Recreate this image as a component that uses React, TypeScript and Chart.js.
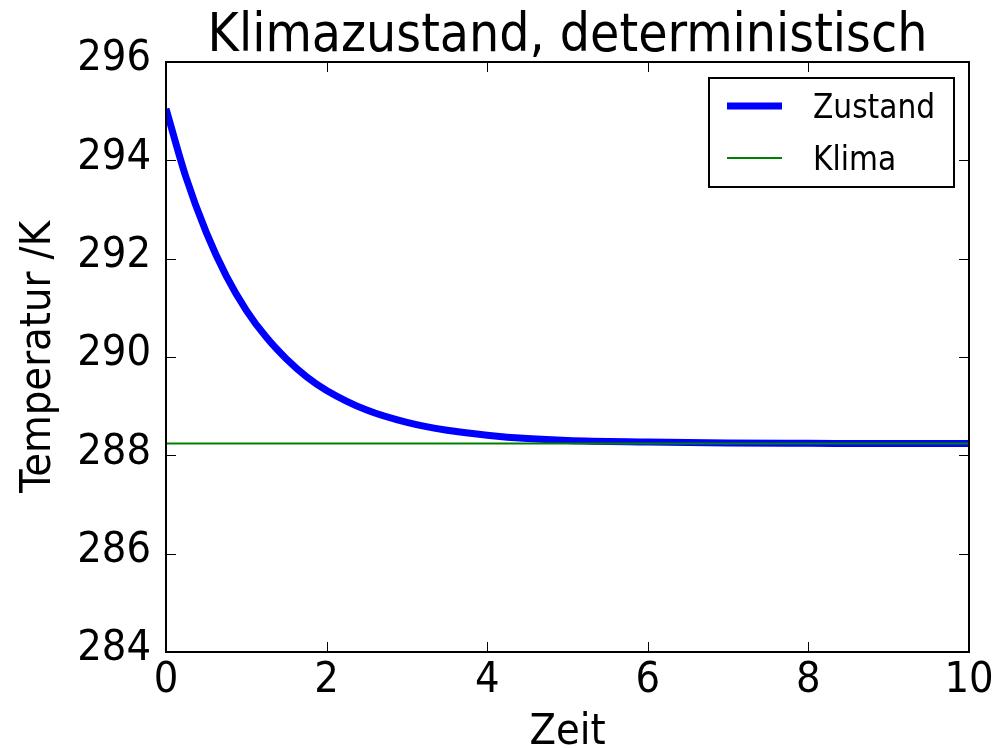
import { useEffect, useRef } from "react";
import { Chart, registerables } from "chart.js";

Chart.register(...registerables);

const FONT = '"DejaVu Sans Condensed", "DejaVu Sans", sans-serif';

const chartTitle = "Klimazustand, deterministisch";
const xAxisLabel = "Zeit";
const yAxisLabel = "Temperatur /K";
const seriesLabels = ["Zustand", "Klima"];
const seriesColors = ["#0000ff", "#008000"];
const seriesWidths = [7, 2];

// Temperature trajectory relaxing toward the climate value
const timeSteps = [0, 0.25, 0.5, 0.75, 1, 1.25, 1.5, 1.75, 2, 2.5, 3, 3.5, 4, 4.5, 5, 6, 7, 8, 9, 10];
const zustand = [
  295.05, 293.65, 292.54, 291.65, 290.95, 290.4, 289.96, 289.6, 289.32, 288.92,
  288.67, 288.51, 288.41, 288.34, 288.3, 288.27, 288.25, 288.245, 288.24, 288.24,
];
const klimaTimes = [0, 10];
const klima = [288.24, 288.24];

const xTicks = [0, 2, 4, 6, 8, 10];
const yTicks = [284, 286, 288, 290, 292, 294, 296];

// Draws the axes frame, inward tick marks on all four sides, and a boxed legend
const framePlugin = {
  id: "frame",
  afterDatasetsDraw(chart: any) {
    const { ctx, chartArea: a, scales } = chart;
    ctx.save();
    ctx.strokeStyle = "#000";
    ctx.lineWidth = 1;
    const len = 10;
    ctx.beginPath();
    for (const v of xTicks) {
      const px = Math.round(scales.x.getPixelForValue(v)) + 0.5;
      ctx.moveTo(px, a.bottom);
      ctx.lineTo(px, a.bottom - len);
      ctx.moveTo(px, a.top);
      ctx.lineTo(px, a.top + len);
    }
    for (const v of yTicks) {
      const py = Math.round(scales.y.getPixelForValue(v)) + 0.5;
      ctx.moveTo(a.left, py);
      ctx.lineTo(a.left + len, py);
      ctx.moveTo(a.right, py);
      ctx.lineTo(a.right - len, py);
    }
    ctx.stroke();

    ctx.lineWidth = 2;
    ctx.strokeRect(a.left, a.top, a.right - a.left, a.bottom - a.top);

    // legend
    const boxW = 245;
    const boxH = 109;
    const boxX = a.right - 15 - boxW;
    const boxY = a.top + 16;
    ctx.fillStyle = "#fff";
    ctx.fillRect(boxX, boxY, boxW, boxH);
    ctx.lineWidth = 2;
    ctx.strokeStyle = "#000";
    ctx.strokeRect(boxX, boxY, boxW, boxH);
    ctx.font = `33px ${FONT}`;
    ctx.textBaseline = "middle";
    ctx.textAlign = "left";
    chart.data.datasets.forEach((ds: any, i: number) => {
      const rowY = boxY + 28 + i * 52;
      ctx.strokeStyle = ds.borderColor;
      ctx.lineWidth = ds.borderWidth;
      ctx.beginPath();
      ctx.moveTo(boxX + 18, rowY);
      ctx.lineTo(boxX + 73, rowY);
      ctx.stroke();
      ctx.fillStyle = "#000";
      ctx.fillText(ds.label, boxX + 104, rowY + 3);
    });
    ctx.restore();
  },
};

export default function App() {
  const ref = useRef<HTMLCanvasElement>(null);

  useEffect(() => {
    Chart.defaults.font.family = FONT;
    const chart = new Chart(ref.current!, {
      type: "line",
      data: {
        datasets: [
          {
            label: seriesLabels[0],
            data: timeSteps.map((t, i) => ({ x: t, y: zustand[i] })),
            borderColor: seriesColors[0],
            borderWidth: seriesWidths[0],
            pointRadius: 0,
            cubicInterpolationMode: "monotone",
            order: 1,
          },
          {
            label: seriesLabels[1],
            data: klimaTimes.map((t, i) => ({ x: t, y: klima[i] })),
            borderColor: seriesColors[1],
            borderWidth: seriesWidths[1],
            pointRadius: 0,
            order: 0,
          },
        ],
      },
      options: {
        responsive: false,
        animation: false,
        devicePixelRatio: 1,
        layout: { padding: { top: 0, left: 0, right: 37, bottom: 0 } },
        plugins: {
          legend: { display: false },
          tooltip: { enabled: false },
          title: {
            display: true,
            fullSize: false,
            text: chartTitle,
            color: "#000",
            font: { size: 53, weight: "normal", lineHeight: 1 },
            padding: { top: 10.5, bottom: -1.5 },
          },
        },
        scales: {
          x: {
            type: "linear",
            min: 0,
            max: 10,
            afterBuildTicks: (s: any) => {
              s.ticks = xTicks.map((v) => ({ value: v }));
            },
            afterFit: (s: any) => {
              s.height = 96;
            },
            grid: { display: false, drawTicks: false },
            border: { display: false },
            ticks: { color: "#000", font: { size: 43 }, padding: 3, maxRotation: 0, autoSkip: false },
            title: {
              display: true,
              text: xAxisLabel,
              color: "#000",
              font: { size: 43, lineHeight: 0.72 },
              padding: { top: 0, bottom: 0 },
            },
          },
          y: {
            type: "linear",
            min: 284,
            max: 296,
            afterBuildTicks: (s: any) => {
              s.ticks = yTicks.map((v) => ({ value: v }));
            },
            afterFit: (s: any) => {
              s.width = 166;
            },
            grid: { display: false, drawTicks: false },
            border: { display: false },
            ticks: { color: "#000", font: { size: 43 }, padding: 15, labelOffset: -3, autoSkip: false },
            title: {
              display: true,
              text: yAxisLabel,
              color: "#000",
              font: { size: 43, lineHeight: 1 },
              padding: { top: 17, bottom: 0 },
            },
          },
        },
      },
      plugins: [framePlugin],
    } as any);
    return () => chart.destroy();
  }, []);

  return (
    <div style={{ position: "fixed", left: 0, top: 0, width: 1006, height: 748, background: "#fff" }}>
      <canvas ref={ref} width={1006} height={748} style={{ display: "block" }} />
    </div>
  );
}
